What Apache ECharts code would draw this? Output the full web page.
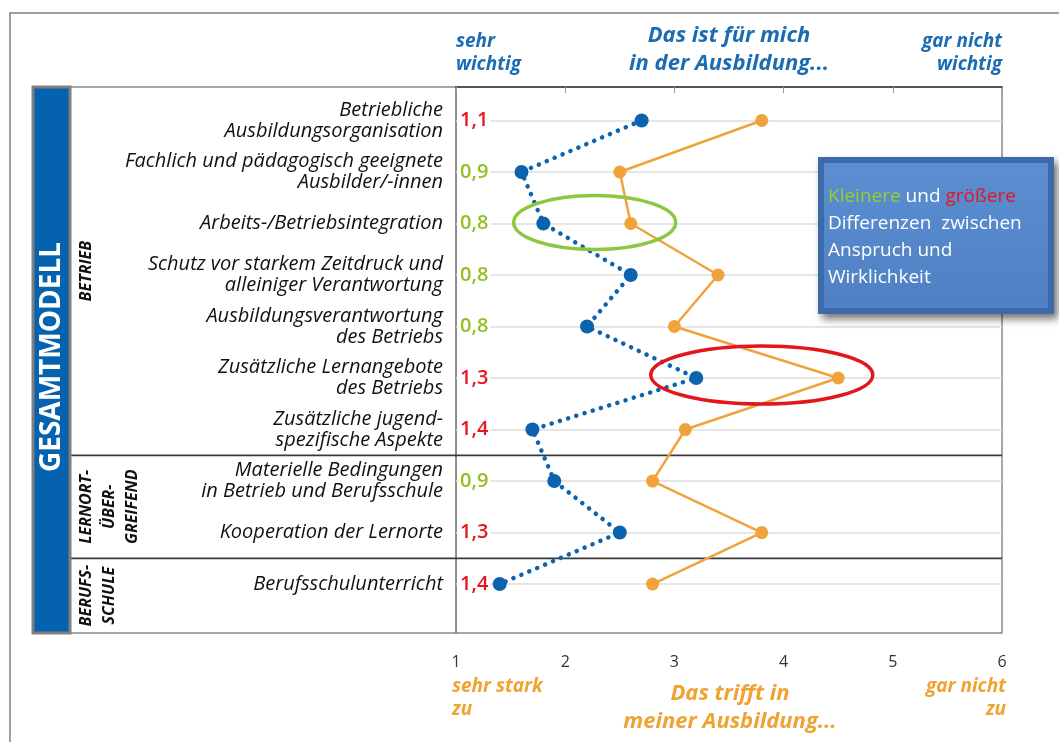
<!DOCTYPE html>
<html><head><meta charset="utf-8">
<script src="https://cdn.jsdelivr.net/npm/echarts@6/dist/echarts.min.js"></script>
<style>html,body{margin:0;padding:0;background:#fff}#c{width:1059px;height:742px}</style>
</head><body><div id="c"></div>
<script>
// ---------- data ----------
const categories = [
  'Betriebliche\nAusbildungsorganisation',
  'Fachlich und pädagogisch geeignete\nAusbilder/-innen',
  'Arbeits-/Betriebsintegration',
  'Schutz vor starkem Zeitdruck und\nalleiniger Verantwortung',
  'Ausbildungsverantwortung\ndes Betriebs',
  'Zusätzliche Lernangebote\ndes Betriebs',
  'Zusätzliche jugend-\nspezifische Aspekte',
  'Materielle Bedingungen\nin Betrieb und Berufsschule',
  'Kooperation der Lernorte',
  'Berufsschulunterricht'
];
const wichtig = [2.7, 1.6, 1.8, 2.6, 2.2, 3.2, 1.7, 1.9, 2.5, 1.4];   // "Das ist für mich in der Ausbildung..."
const trifft  = [3.8, 2.5, 2.6, 3.4, 3.0, 4.5, 3.1, 2.8, 3.8, 2.8];   // "Das trifft in meiner Ausbildung..."
const differenz = ['1,1', '0,9', '0,8', '0,8', '0,8', '1,3', '1,4', '0,9', '1,3', '1,4'];
const groupNames = ['BETRIEB', 'LERNORT-\nÜBER-\nGREIFEND', 'BERUFS-\nSCHULE'];
const groupLastRow = [6, 8, 9];
const xTickMin = 1, xTickMax = 6, xTickStep = 1;
const topLeftText = 'sehr\nwichtig';
const topCenterText = 'Das ist für mich\nin der Ausbildung...';
const topRightText = 'gar nicht\nwichtig';
const bottomLeftText = 'sehr stark\nzu';
const bottomCenterText = 'Das trifft in\nmeiner Ausbildung...';
const bottomRightText = 'gar nicht\nzu';
const sideTitle = 'GESAMTMODELL';

// ---------- layout helpers ----------
const ROW_OFFSET = 0.65, Y_MAX = 10.6;
const rowY = i => i + ROW_OFFSET;
const BLUE = '#0b62ae', ORANGE = '#f1a33b', RED = '#e8141e', GREEN = '#92c020';
const FONT = '"Open Sans", "Noto Sans", sans-serif';
const diffColor = s => parseFloat(s.replace(',', '.')) >= 1.0 ? RED : GREEN;

const chart = echarts.init(document.getElementById('c'), null, {renderer: 'canvas'});

const labelPoints = categories.map((c, i) => ({value: [xTickMin, rowY(i)], name: c}));
const diffPoints = differenz.map((d, i) => ({
  value: [xTickMin, rowY(i)], name: d,
  label: {color: diffColor(d)}
}));

chart.setOption({
  animation: false,
  grid: {left: 456, right: 57, top: 87, bottom: 109, show: true,
         borderColor: '#8a8a8a', borderWidth: 1.5, backgroundColor: 'transparent'},
  xAxis: {
    type: 'value', min: xTickMin, max: xTickMax, interval: xTickStep,
    axisLine: {show: true, lineStyle: {color: '#555', width: 2}},
    axisTick: {show: true, length: 6, lineStyle: {color: '#999'}},
    axisLabel: {margin: 21, fontSize: 16, color: '#333', fontFamily: FONT},
    splitLine: {show: false}
  },
  yAxis: {
    type: 'value', min: 0, max: Y_MAX, inverse: true,
    axisLine: {show: true, onZero: false, lineStyle: {color: '#8a8a8a', width: 1}},
    axisTick: {show: false}, axisLabel: {show: false}, splitLine: {show: false}
  },
  series: [
    {
      type: 'scatter', name: 'labels', z: 1, symbolSize: 0, silent: true,
      itemStyle: {opacity: 1},
      data: labelPoints,
      label: {show: true, position: 'left', distance: 13, formatter: p => p.name,
              fontSize: 20, fontStyle: 'italic', color: '#111', lineHeight: 21,
              fontFamily: FONT},
      markLine: {
        z: 1, silent: true, symbol: 'none', label: {show: false},
        lineStyle: {color: '#dedede', width: 1.5, type: 'solid'},
        data: categories.map((c, i) => ({yAxis: rowY(i)}))
      }
    },
    {
      type: 'scatter', name: 'diff', z: 6, symbolSize: 0, silent: true,
      itemStyle: {opacity: 1},
      data: diffPoints,
      label: {show: true, position: 'right', distance: 2, formatter: p => p.name,
              fontSize: 20, fontWeight: 600, fontFamily: FONT,
              backgroundColor: '#fff', padding: [0, 2]}
    },
    {
      type: 'line', name: 'wichtig', z: 4,
      data: wichtig.map((v, i) => [v, rowY(i)]),
      symbol: 'circle', symbolSize: 14, showSymbol: true,
      itemStyle: {color: BLUE},
      lineStyle: {color: BLUE, width: 4.5, type: [0.1, 8.5], cap: 'round'}
    },
    {
      type: 'line', name: 'trifft', z: 3,
      data: trifft.map((v, i) => [v, rowY(i)]),
      symbol: 'circle', symbolSize: 13, showSymbol: true,
      itemStyle: {color: ORANGE},
      lineStyle: {color: ORANGE, width: 2.5}
    }
  ]
});

// ---------- decorations positioned through the axes ----------
const xPix = v => chart.convertToPixel({xAxisIndex: 0}, v);
const yPix = v => chart.convertToPixel({yAxisIndex: 0}, v);
const plotTop = yPix(0), plotBottom = yPix(Y_MAX);
const plotLeft = xPix(xTickMin), plotRight = xPix(xTickMax);
const panelLeft = 70, barLeft = 33;

const g = [];
// outer frame
g.push({type: 'rect', z: 0, shape: {x: 10, y: 13, width: 1070, height: 760},
        style: {fill: 'none', stroke: '#808080', lineWidth: 1.5}});
// label panel
g.push({type: 'rect', z: 0, shape: {x: panelLeft, y: plotTop, width: plotLeft - panelLeft, height: plotBottom - plotTop},
        style: {fill: 'none', stroke: '#8a8a8a', lineWidth: 1.5}});
// blue side bar
g.push({type: 'rect', z: 5, shape: {x: barLeft, y: plotTop, width: panelLeft - barLeft, height: plotBottom - plotTop},
        style: {fill: '#0562ae', stroke: '#7f7f7f', lineWidth: 3}});
g.push({type: 'text', z: 6, x: (barLeft + panelLeft) / 2 + 1, y: 357, rotation: Math.PI / 2,
        style: {text: sideTitle, fill: '#fff', font: 'bold 28px ' + FONT, align: 'center', verticalAlign: 'middle'}});

// group separators & group labels
let prevEnd = 0;
groupNames.forEach((name, gi) => {
  const last = groupLastRow[gi];
  const end = gi === groupNames.length - 1 ? Y_MAX : last + 0.5 + ROW_OFFSET;
  if (gi < groupNames.length - 1) {
    const yy = yPix(end);
    g.push({type: 'line', z: 3, shape: {x1: panelLeft, y1: yy, x2: plotRight, y2: yy},
            style: {stroke: '#3a3a3a', lineWidth: 1.8}});
  }
  const cy = (yPix(prevEnd) + yPix(end)) / 2;
  g.push({type: 'text', z: 6, x: 75, y: cy, rotation: Math.PI / 2,
          style: {text: name, fill: '#111', font: 'italic bold 16px ' + FONT,
                  align: 'center', verticalAlign: 'top', lineHeight: 23}});
  prevEnd = end;
});

// ellipses
g.push({type: 'ellipse', z: 7, shape: {cx: xPix(2.27), cy: yPix(rowY(2)) - 1, rx: 81, ry: 27},
        style: {fill: 'none', stroke: '#8dc63f', lineWidth: 3.5}});
g.push({type: 'ellipse', z: 7, shape: {cx: xPix(3.8), cy: yPix(rowY(5)) - 3, rx: 111, ry: 29},
        style: {fill: 'none', stroke: '#e3161d', lineWidth: 3.5}});

// header / footer texts
const blueTxt = '#1c6cb3', orangeTxt = '#f0a232';
g.push({type: 'text', z: 6, x: plotLeft, y: 30,
        style: {text: topLeftText, fill: blueTxt, font: 'italic bold 19px ' + FONT, align: 'left', verticalAlign: 'top', lineHeight: 23}});
g.push({type: 'text', z: 6, x: 729, y: 22,
        style: {text: topCenterText, fill: blueTxt, font: 'italic bold 22px ' + FONT, align: 'center', verticalAlign: 'top', lineHeight: 28}});
g.push({type: 'text', z: 6, x: plotRight, y: 30,
        style: {text: topRightText, fill: blueTxt, font: 'italic bold 19px ' + FONT, align: 'right', verticalAlign: 'top', lineHeight: 23}});
g.push({type: 'text', z: 6, x: plotLeft - 4, y: 675,
        style: {text: bottomLeftText, fill: orangeTxt, font: 'italic bold 19px ' + FONT, align: 'left', verticalAlign: 'top', lineHeight: 23}});
g.push({type: 'text', z: 6, x: 730, y: 680,
        style: {text: bottomCenterText, fill: orangeTxt, font: 'italic bold 22px ' + FONT, align: 'center', verticalAlign: 'top', lineHeight: 28}});
g.push({type: 'text', z: 6, x: plotRight + 4, y: 675,
        style: {text: bottomRightText, fill: orangeTxt, font: 'italic bold 19px ' + FONT, align: 'right', verticalAlign: 'top', lineHeight: 23}});

// info box
const bx = 818, by = 157, bw = 236, bh = 157;
g.push({type: 'rect', z: 8, shape: {x: bx, y: by, width: bw, height: bh},
        style: {fill: '#3d6aa8', shadowBlur: 8, shadowOffsetX: 4, shadowOffsetY: 5, shadowColor: 'rgba(0,0,0,0.55)'}});
g.push({type: 'rect', z: 9, shape: {x: bx + 6, y: by + 6, width: bw - 12, height: bh - 12},
        style: {fill: new echarts.graphic.LinearGradient(0, 0, 0, 1, [
          {offset: 0, color: '#5c8ed2'}, {offset: 1, color: '#4f80c4'}])}});
const bf = '19px ' + FONT;
g.push({type: 'text', z: 10, x: bx + 10, y: by + 26,
        style: {text: '{g|Kleinere} {w|und} {r|größere}\nDifferenzen  zwischen\nAnspruch und\nWirklichkeit',
                fill: '#fff', font: bf, lineHeight: 27, align: 'left', verticalAlign: 'top',
                rich: {g: {fill: '#8fd12d', font: bf, lineHeight: 27},
                       w: {fill: '#fff', font: bf, lineHeight: 27},
                       r: {fill: '#e8141e', font: bf, lineHeight: 27}}}});

chart.setOption({graphic: {elements: g}});
</script>
</body></html>
